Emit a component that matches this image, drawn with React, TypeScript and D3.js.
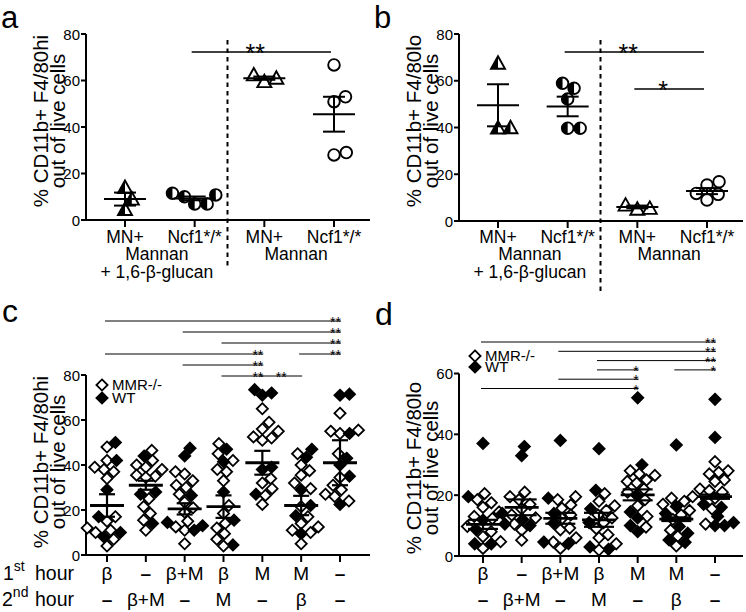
import React from "react";
import * as d3 from "d3";

const FONT = "'Liberation Sans', Arial, Helvetica, sans-serif";

// ---------- Panels a & b data ----------
const abCategories = ["MN+", "Ncf1*/*", "MN+", "Ncf1*/*"];
const abTreatments = [["Mannan", "+ 1,6-β-glucan"], ["Mannan"]];
const abMarkers = ["halfTri", "halfCircle", "openTri", "openCircle"];
const abTicks = [0, 20, 40, 60, 80];

const aMNglucan = [14, 9, 4.5];
const aNcfGlucan = [10, 11.5, 10.8, 6.9, 6.9];
const aMNmannan = [62.4, 59.5, 61];
const aNcfMannan = [66.7, 53, 50.9, 28, 29];
const aMeans = [9, 9.3, 61, 45.5];
const aSems = [2.8, 0.8, 0.7, 7.5];

const bMNglucan = [67.5, 39.8, 39.9];
const bNcfGlucan = [56.8, 58.9, 52.2, 39.7, 39.7];
const bMNmannan = [6.8, 5, 5.4];
const bNcfMannan = [16.8, 15.4, 11.8, 11.4, 9];
const bMeans = [49.5, 49, 6, 12.8];
const bSems = [9, 4.2, 0.6, 1.3];

// significance bars: [fromGroup, toGroup, level, label]
const aBars: [number, number, number, string][] = [[1, 3, 0, "**"]];
const bBars: [number, number, number, string][] = [
  [1, 3, 0, "**"],
  [2, 3, 1, "*"],
];

// ---------- Panels c & d data ----------
const hour1 = ["β", "–", "β+M", "β", "M", "M", "–"];
const hour2 = ["–", "β+M", "–", "M", "–", "β", "–"];
const cTicks = [0, 20, 40, 60, 80];
const dTicks = [0, 20, 40, 60];

const cMMR = [
  [48, 42, 39, 38, 37, 34, 17, 15, 12, 11, 10, 7, 4],
  [46.5, 42, 40, 38, 39, 35, 35.5, 34.5, 25, 21.5, 18.5, 15.5, 11],
  [37, 36, 33, 30, 31, 27, 23.5, 21, 19, 15, 12.5, 11, 5],
  [49.5, 45, 42, 38, 37, 33, 22, 18.5, 14, 12, 9.5, 7, 4],
  [65, 59, 56, 55, 52, 51, 52.5, 34, 32, 29.5, 26.5, 22.5],
  [45, 40, 37.5, 35.5, 32, 29.5, 21.5, 17, 14, 12.5, 11, 10, 5],
  [63, 55, 55.5, 54, 45, 34.5, 31, 26, 24, 27, 29],
];
const cWT = [
  [50, 42, 29, 17, 10, 8],
  [44, 28, 27, 14],
  [47.5, 44, 26.5, 14.5, 11, 13],
  [47, 41.5, 28, 15.5, 4.5],
  [73.5, 72, 71, 39, 38, 27],
  [47, 43.5, 29, 22, 17.5, 9.5],
  [71.5, 71, 54, 43, 40, 35, 22.5],
];
const cMeans = [22, 31, 20.5, 21.5, 41, 22, 41];
const cSems = [5, 2, 2.5, 5, 5.3, 4.3, 10];

const dMMR = [
  [20.5, 18.5, 17.5, 16, 14.5, 13, 12.3, 9.7, 8, 6.4, 4.7, 2.5],
  [21, 19.5, 18.5, 17, 15.5, 13.5, 12.5, 10.5, 8.5, 5.2],
  [19.5, 18.5, 16.8, 15.7, 13.5, 12.3, 9.2, 8.6, 6, 4.6, 2.5],
  [20.5, 18, 16.5, 15, 13.5, 12.5, 11, 9, 7, 6, 4, 2],
  [28, 27, 26.5, 25, 24.5, 24, 22, 21, 18.5, 16.5, 13, 9.5],
  [19.5, 19, 18, 17, 15, 13.5, 12, 8.5, 6.5, 3.3],
  [31, 28, 27.5, 27, 25, 24.5, 22, 21.5, 21, 19, 15.5, 10.5],
];
const dWT = [
  [37, 19.5, 11.8, 8.6, 4, 4],
  [36, 33, 14, 12, 10.5, 10],
  [38, 19, 14, 10.8, 4.6, 4.1],
  [35.3, 21.6, 15.5, 11, 3, 2.2],
  [52, 30, 20, 14.5, 12.5, 10, 8],
  [36.5, 16.3, 14, 9.7, 7.5, 5.3, 4.5],
  [51.5, 39, 17, 16, 13, 11, 10, 10],
];
const dMeans = [10.4, 16, 12.4, 11.9, 20.1, 12.1, 19.5];
const dSems = [1.5, 2.6, 1.8, 2.3, 1.8, 0.6, 0.7];

// [from, to, level, label, anchor]
const cBars: [number, number, number, string, string][] = [
  [0, 6, 0, "**", "end"],
  [2, 6, 1, "**", "end"],
  [3, 6, 2, "**", "end"],
  [0, 4, 3, "**", "end"],
  [5, 6, 3, "**", "end"],
  [2, 4, 4, "**", "end"],
  [3, 4, 5, "**", "end"],
  [4, 5, 5, "**", "middle"],
];
const dBars: [number, number, number, string, string][] = [
  [0, 6, 0, "**", "end"],
  [2, 6, 1, "**", "end"],
  [3, 6, 2, "**", "end"],
  [3, 4, 3, "*", "end"],
  [5, 6, 3, "*", "end"],
  [2, 4, 4, "*", "end"],
  [0, 4, 5, "*", "end"],
];

// ---------- helpers ----------
function swarm(ys: number[], diam: number): number[] {
  const idx = ys.map((_, i) => i).sort((a, b) => ys[b] - ys[a]);
  const placed: { x: number; y: number }[] = [];
  const offs = new Array(ys.length).fill(0);
  for (const i of idx) {
    const y = ys[i];
    const intervals: [number, number][] = [];
    for (const p of placed) {
      const dy = Math.abs(p.y - y);
      if (dy < diam) {
        const dx = Math.sqrt(diam * diam - dy * dy);
        intervals.push([p.x - dx, p.x + dx]);
      }
    }
    const cands = [0];
    intervals.forEach(([a, b]) => cands.push(a, b));
    const ok = cands.filter((c) =>
      intervals.every(([a, b]) => c <= a + 1e-6 || c >= b - 1e-6)
    );
    ok.sort((a, b) => Math.abs(a) - Math.abs(b) || b - a);
    offs[i] = ok[0];
    placed.push({ x: ok[0], y });
  }
  return offs;
}

function Marker({ type, x, y }: { type: string; x: number; y: number }) {
  const t = `translate(${x},${y})`;
  if (type === "halfTri" || type === "openTri") {
    return (
      <g transform={t}>
        <path d="M0,-7L7,5.5L-7,5.5Z" fill="white" stroke="black" strokeWidth={1.9} strokeLinejoin="miter" />
        {type === "halfTri" && <path d="M0,-7L0,5.5L-7,5.5Z" fill="black" />}
      </g>
    );
  }
  if (type === "halfCircle" || type === "openCircle") {
    const r = 5.8;
    return (
      <g transform={t}>
        <circle r={r} fill="white" stroke="black" strokeWidth={1.9} />
        {type === "halfCircle" && <path d={`M0,${-r}A${r},${r} 0 0 0 0,${r}Z`} fill="black" />}
      </g>
    );
  }
  const r = 5.6;
  return (
    <path
      transform={t}
      d={`M0,${-r}L${r},0L0,${r}L${-r},0Z`}
      fill={type === "filledDiamond" ? "black" : "white"}
      stroke="black"
      strokeWidth={1.8}
      strokeLinejoin="miter"
    />
  );
}

function YTitle({ x1, x2, cy, lines, fs }: { x1: number; x2: number; cy: number; lines: string[]; fs: number }) {
  return (
    <g fontSize={fs}>
      <text transform={`translate(${x1},${cy}) rotate(-90)`} textAnchor="middle">{lines[0]}</text>
      <text transform={`translate(${x2},${cy}) rotate(-90)`} textAnchor="middle">{lines[1]}</text>
    </g>
  );
}

function PanelAB(props: {
  letter: string;
  axisX: number;
  yTop: number;
  yBot: number;
  xEnd: number;
  gx: [number, number];
  groups: number[][];
  means: number[];
  sems: number[];
  title: string[];
  bars: [number, number, number, string][];
  dashBot: number;
}) {
  const { axisX, yTop, yBot, xEnd, gx, groups, means, sems, title, bars, dashBot } = props;
  const y = d3.scaleLinear().domain([0, 80]).range([yBot, yTop]);
  const x = d3.scalePoint<number>().domain(d3.range(groups.length)).range(gx);
  const dashX = (x(1)! + x(2)!) / 2 - 2;
  const barY = [52, 89];
  return (
    <g>
      <text x={axisX - 85} y={28} fontSize={31}>{props.letter}</text>
      <YTitle x1={axisX - 38} x2={axisX - 21} cy={121} lines={title} fs={20.5} />
      {/* axes */}
      <line x1={axisX} x2={axisX} y1={yTop} y2={yBot + 1} stroke="black" strokeWidth={2} />
      <line x1={axisX - 1} x2={xEnd} y1={yBot} y2={yBot} stroke="black" strokeWidth={2} />
      {abTicks.map((t) => (
        <g key={t}>
          <line x1={axisX - 5} x2={axisX} y1={y(t)} y2={y(t)} stroke="black" strokeWidth={2} />
          <text x={axisX - 6} y={y(t) + 5.5} fontSize={15} textAnchor="end">{t}</text>
        </g>
      ))}
      {abCategories.map((c, i) => (
        <g key={i}>
          <line x1={x(i)} x2={x(i)} y1={yBot} y2={yBot + 7} stroke="black" strokeWidth={2} />
          <text x={x(i)} y={243} fontSize={17.5} textAnchor="middle">{c}</text>
        </g>
      ))}
      {abTreatments.map((lines, k) => {
        const cx = (x(2 * k)! + x(2 * k + 1)!) / 2 - 3;
        return lines.map((l, j) => (
          <text key={`${k}-${j}`} x={cx} y={260 + j * 18} fontSize={17.5} textAnchor="middle">{l}</text>
        ));
      })}
      <line x1={dashX} x2={dashX} y1={40} y2={dashBot} stroke="black" strokeWidth={2} strokeDasharray="4.5,4" />
      {bars.map(([a, b, lvl, lab], i) => {
        const x1 = x(a)! - 3;
        const x2 = x(b)! - 3;
        return (
          <g key={i}>
            <line x1={x1} x2={x2} y1={barY[lvl]} y2={barY[lvl]} stroke="black" strokeWidth={1.5} />
            <text x={(x1 + x2) / 2 - 6} y={barY[lvl] + 10} fontSize={25} textAnchor="middle">{lab}</text>
          </g>
        );
      })}
      {groups.map((vals, gi) => {
        const ys = vals.map((v) => y(v));
        const offs = swarm(ys, 12.5);
        return (
          <g key={gi}>
            {vals.map((v, i) => (
              <Marker key={i} type={abMarkers[gi]} x={x(gi)! + offs[i]} y={ys[i]} />
            ))}
          </g>
        );
      })}
      {means.map((m, gi) => {
        const cx = x(gi)!;
        return (
          <g key={gi} stroke="black" strokeWidth={2}>
            <line x1={cx - 21} x2={cx + 21} y1={y(m)} y2={y(m)} />
            <line x1={cx} x2={cx} y1={y(m - sems[gi])} y2={y(m + sems[gi])} />
            <line x1={cx - 11} x2={cx + 11} y1={y(m + sems[gi])} y2={y(m + sems[gi])} />
            <line x1={cx - 11} x2={cx + 11} y1={y(m - sems[gi])} y2={y(m - sems[gi])} />
          </g>
        );
      })}
    </g>
  );
}

function PanelCD(props: {
  letter: string;
  letterY: number;
  axisX: number;
  yTop: number;
  yBot: number;
  xEnd: number;
  gx: [number, number];
  max: number;
  ticks: number[];
  mmr: number[][];
  wt: number[][];
  means: number[];
  sems: number[];
  title: string[];
  titleY: number;
  bars: [number, number, number, string, string][];
  barY0: number;
  barDy: number;
  legendY: [number, number];
  capW: number;
  showHour: boolean;
}) {
  const { axisX, yTop, yBot, xEnd, gx, max, ticks, mmr, wt, means, sems, title, bars } = props;
  const y = d3.scaleLinear().domain([0, max]).range([yBot, yTop]);
  const x = d3.scalePoint<number>().domain(d3.range(mmr.length)).range(gx);
  const row1 = 580;
  const row2 = 606;
  return (
    <g>
      <text x={axisX - 84} y={props.letterY} fontSize={32}>{props.letter}</text>
      <YTitle x1={axisX - 38} x2={axisX - 21} cy={props.titleY} lines={title} fs={20.5} />
      <line x1={axisX} x2={axisX} y1={yTop} y2={yBot + 1} stroke="black" strokeWidth={2} />
      <line x1={axisX - 1} x2={xEnd} y1={yBot} y2={yBot} stroke="black" strokeWidth={2} />
      {ticks.map((t) => (
        <g key={t}>
          <line x1={axisX - 5} x2={axisX} y1={y(t)} y2={y(t)} stroke="black" strokeWidth={2} />
          <text x={axisX - 6} y={y(t) + 5.5} fontSize={15} textAnchor="end">{t}</text>
        </g>
      ))}
      {hour1.map((h, i) => (
        <g key={i}>
          <line x1={x(i)} x2={x(i)} y1={yBot} y2={yBot + 7} stroke="black" strokeWidth={2} />
          <text x={x(i)} y={row1} fontSize={19} textAnchor="middle" fontWeight={h === "–" ? "bold" : "normal"}>{h}</text>
          <text x={x(i)} y={row2} fontSize={19} textAnchor="middle" fontWeight={hour2[i] === "–" ? "bold" : "normal"}>{hour2[i]}</text>
        </g>
      ))}
      {props.showHour && (
        <g fontSize={19.5}>
          <text x={3} y={row1}>1<tspan fontSize={14} dy={-9}>st</tspan></text>
          <text x={35} y={row1}>hour</text>
          <text x={2} y={row2}>2<tspan fontSize={14} dy={-9}>nd</tspan></text>
          <text x={35} y={row2}>hour</text>
        </g>
      )}
      {/* legend */}
      <Marker type="openDiamond" x={axisX + 16} y={props.legendY[0]} />
      <text x={axisX + 26} y={props.legendY[0] + 5} fontSize={15}>MMR-/-</text>
      <Marker type="filledDiamond" x={axisX + 16} y={props.legendY[1]} />
      <text x={axisX + 26} y={props.legendY[1] + 5} fontSize={15}>WT</text>
      {bars.map(([a, b, lvl, lab, anchor], i) => {
        const x1 = x(a)! - 2;
        const x2 = x(b)! + 1;
        const ly = props.barY0 + lvl * props.barDy;
        return (
          <g key={i}>
            <line x1={x1} x2={x2} y1={ly} y2={ly} stroke="black" strokeWidth={1} />
            <text
              x={anchor === "end" ? x2 : (x1 + x2) / 2}
              y={ly + 6}
              fontSize={14}
              textAnchor={anchor}
            >
              {lab}
            </text>
          </g>
        );
      })}
      {mmr.map((vals, gi) => {
        const pts = [
          ...vals.map((v) => ({ v, t: "openDiamond" })),
          ...wt[gi].map((v) => ({ v, t: "filledDiamond" })),
        ];
        const ys = pts.map((p) => y(p.v));
        const offs = swarm(ys, 9.5);
        const order = pts.map((_, i) => i).sort((a, b) => ys[a] - ys[b]);
        return (
          <g key={gi}>
            {order.map((i) => (
              <Marker key={i} type={pts[i].t} x={x(gi)! + offs[i]} y={ys[i]} />
            ))}
          </g>
        );
      })}
      {means.map((m, gi) => {
        const cx = x(gi)!;
        const cw = props.capW / 2;
        return (
          <g key={gi} stroke="black" strokeWidth={2.2}>
            <line x1={cx - 17} x2={cx + 17} y1={y(m)} y2={y(m)} strokeWidth={2.8} />
            <line x1={cx} x2={cx} y1={y(m - sems[gi])} y2={y(m + sems[gi])} />
            <line x1={cx - cw} x2={cx + cw} y1={y(m + sems[gi])} y2={y(m + sems[gi])} />
            <line x1={cx - cw} x2={cx + cw} y1={y(m - sems[gi])} y2={y(m - sems[gi])} />
          </g>
        );
      })}
    </g>
  );
}

export default function App() {
  return (
    <svg
      width={746}
      height={612}
      style={{ position: "absolute", left: 0, top: 0, display: "block" }}
      fontFamily={FONT}
    >
      <rect width={746} height={612} fill="white" />
      <PanelAB
        letter="a"
        axisX={86}
        yTop={34}
        yBot={220}
        xEnd={370}
        gx={[125, 334]}
        groups={[aMNglucan, aNcfGlucan, aMNmannan, aNcfMannan]}
        means={aMeans}
        sems={aSems}
        title={["% CD11b+ F4/80hi", "out of live cells"]}
        bars={aBars}
        dashBot={268}
      />
      <PanelAB
        letter="b"
        axisX={459}
        yTop={34}
        yBot={221}
        xEnd={743}
        gx={[498, 707]}
        groups={[bMNglucan, bNcfGlucan, bMNmannan, bNcfMannan]}
        means={bMeans}
        sems={bSems}
        title={["% CD11b+ F4/80lo", "out of live cells"]}
        bars={bBars}
        dashBot={292}
      />
      <PanelCD
        letter="c"
        letterY={322}
        axisX={86}
        yTop={375}
        yBot={555}
        xEnd={370}
        gx={[107, 340]}
        max={80}
        ticks={cTicks}
        mmr={cMMR}
        wt={cWT}
        means={cMeans}
        sems={cSems}
        title={["% CD11b+ F4/80hi", "out of live cells"]}
        titleY={462}
        bars={cBars}
        barY0={321}
        barDy={11}
        legendY={[385, 398]}
        capW={16}
        showHour={true}
      />
      <PanelCD
        letter="d"
        letterY={325}
        axisX={459}
        yTop={373.5}
        yBot={556}
        xEnd={743}
        gx={[483, 715]}
        max={60}
        ticks={dTicks}
        mmr={dMMR}
        wt={dWT}
        means={dMeans}
        sems={dSems}
        title={["% CD11b+ F4/80lo", "out of live cells"]}
        titleY={468}
        bars={dBars}
        barY0={342}
        barDy={9.3}
        legendY={[356, 367]}
        capW={30}
        showHour={false}
      />
    </svg>
  );
}
